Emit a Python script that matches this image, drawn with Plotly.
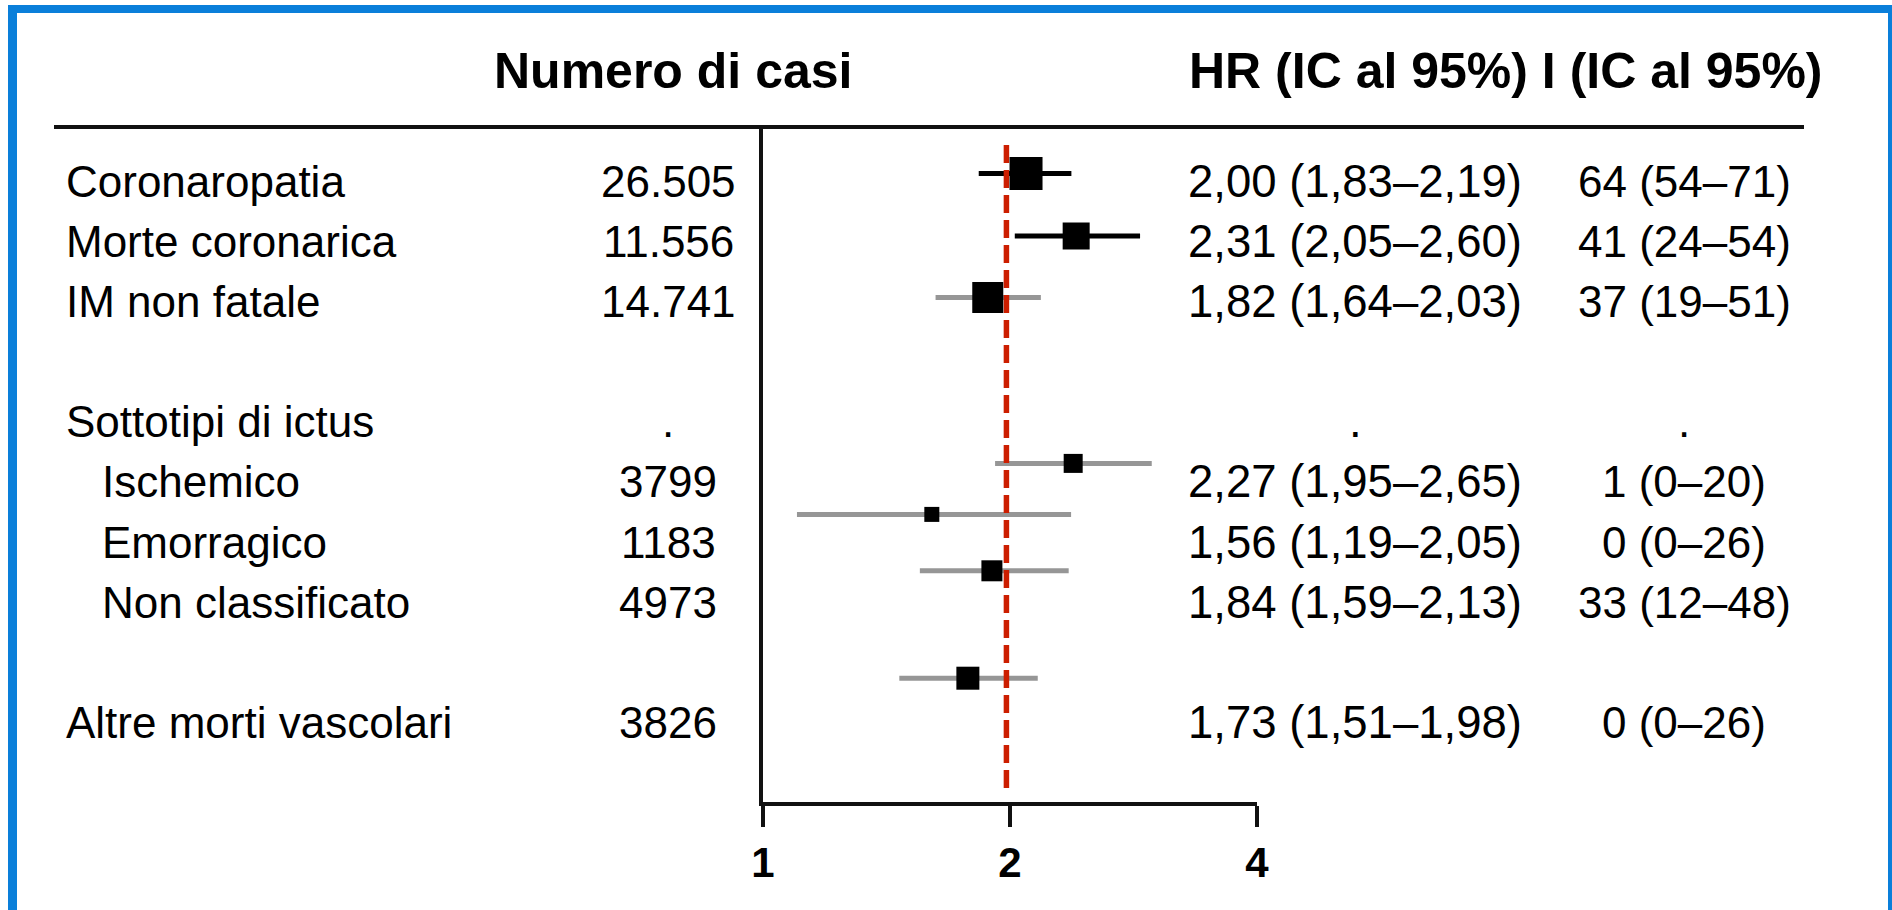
import math
import plotly.graph_objects as go

W, H = 1892, 910

# ---- data ----
labels = ["Coronaropatia", "Morte coronarica", "IM non fatale", "Sottotipi di ictus",
          "Ischemico", "Emorragico", "Non classificato", "Altre morti vascolari"]
label_row = [0, 1, 2, 4, 5, 6, 7, 9]
label_indent = [0, 0, 0, 0, 1, 1, 1, 0]
cases = ["26.505", "11.556", "14.741", ".", "3799", "1183", "4973", "3826"]
hr_text = ["2,00 (1,83\u20132,19)", "2,31 (2,05\u20132,60)", "1,82 (1,64\u20132,03)", ".",
           "2,27 (1,95\u20132,65)", "1,56 (1,19\u20132,05)", "1,84 (1,59\u20132,13)",
           "1,73 (1,51\u20131,98)"]
i_text = ["64 (54\u201371)", "41 (24\u201354)", "37 (19\u201351)", ".",
          "1 (0\u201320)", "0 (0\u201326)", "33 (12\u201348)", "0 (0\u201326)"]

# forest marks (as drawn in the picture)
mark_names = ["Coronaropatia", "Morte coronarica", "IM non fatale", "Ischemico",
              "Emorragico", "Non classificato", "Altre morti vascolari"]
mark_row = [-0.143, 0.90, 1.925, 4.69, 5.54, 6.48, 8.27]
mark_est = [2.092, 2.408, 1.879, 2.388, 1.606, 1.901, 1.777]
mark_lo = [1.832, 2.027, 1.623, 1.918, 1.100, 1.553, 1.466]
mark_hi = [2.376, 2.881, 2.181, 2.977, 2.374, 2.358, 2.162]
mark_weight = [33, 27, 31, 19, 15, 21, 23]
mark_dark = [True, True, False, False, False, False, False]

ref_value = 1.98
x_ticks = [1, 2, 4]
x_ticklabels = ["1", "2", "4"]

# ---- layout helpers ----
FONT = "Liberation Sans, Arial, sans-serif"
ROW0_PX = 182.0
ROW_STEP = 60.0
TOP_PX, BOT_PX = 127.0, 802.0
y_top = (TOP_PX - ROW0_PX) / ROW_STEP
y_bot = (BOT_PX - ROW0_PX) / ROW_STEP
LEFT_PX, RIGHT_PX = 763.0, 1257.0

fig = go.Figure()

for dark, col in [(True, "#000000"), (False, "#969696")]:
    xs, ys = [], []
    for r, lo, hi, d in zip(mark_row, mark_lo, mark_hi, mark_dark):
        if d == dark:
            xs += [lo, hi, None]
            ys += [r, r, None]
    fig.add_trace(go.Scatter(x=xs, y=ys, mode="lines",
                             line=dict(color=col, width=5), hoverinfo="skip",
                             showlegend=False))

# reference dashed line
fig.add_trace(go.Scatter(x=[ref_value, ref_value],
                         y=[(145 - ROW0_PX) / ROW_STEP, (795 - ROW0_PX) / ROW_STEP],
                         mode="lines", line=dict(color="#cc1e00", width=5.5, dash="18px,7px"),
                         hoverinfo="skip", showlegend=False))

fig.add_trace(go.Scatter(x=mark_est, y=mark_row, mode="markers",
                         marker=dict(symbol="square", size=mark_weight, color="#000000",
                                     opacity=1, line=dict(width=0)),
                         text=mark_names, showlegend=False))

ann = []
for lab, r, ind, c, h, i in zip(labels, label_row, label_indent, cases, hr_text, i_text):
    ann.append(dict(text=lab, x=(64 + 36 * ind) / W, xref="paper", y=r, yref="y",
                    xanchor="left", yanchor="middle", showarrow=False,
                    font=dict(family=FONT, size=44, color="#000")))
    ann.append(dict(text=c, x=668 / W, xref="paper", y=r, yref="y",
                    xanchor="center", yanchor="middle", showarrow=False,
                    font=dict(family=FONT, size=44, color="#000")))
    ann.append(dict(text=h, x=1355 / W, xref="paper", y=r, yref="y",
                    xanchor="center", yanchor="middle", showarrow=False,
                    font=dict(family=FONT, size=45.5, color="#000")))
    ann.append(dict(text=i, x=1684 / W, xref="paper", y=r, yref="y",
                    xanchor="center", yanchor="middle", showarrow=False,
                    font=dict(family=FONT, size=44, color="#000")))

ann.append(dict(text="<b>Numero di casi</b>", x=673 / W, xref="paper", y=1 - 71 / H,
                yref="paper", xanchor="center", yanchor="middle", showarrow=False,
                font=dict(family=FONT, size=50, color="#000")))
ann.append(dict(text="<b>HR (IC al 95%) I (IC al 95%)</b>", x=1506 / W, xref="paper",
                y=1 - 71 / H, yref="paper", xanchor="center", yanchor="middle",
                showarrow=False, font=dict(family=FONT, size=50, color="#000")))

BLUE = "#0a7fda"
shapes = [
    dict(type="line", xref="paper", yref="paper", x0=54 / W, x1=1804 / W,
         y0=1 - 127 / H, y1=1 - 127 / H, line=dict(color="#111", width=4)),
    dict(type="rect", xref="paper", yref="paper", x0=8 / W, x1=17 / W, y0=0,
         y1=1 - 5 / H, fillcolor=BLUE, line=dict(width=0)),
    dict(type="rect", xref="paper", yref="paper", x0=8 / W, x1=1, y0=1 - 13 / H,
         y1=1 - 5 / H, fillcolor=BLUE, line=dict(width=0)),
    dict(type="rect", xref="paper", yref="paper", x0=1888 / W, x1=1, y0=0,
         y1=1 - 5 / H, fillcolor=BLUE, line=dict(width=0)),
]

fig.update_layout(
    template="none",
    width=W, height=H, margin=dict(l=0, r=0, t=0, b=0, pad=0, autoexpand=False),
    paper_bgcolor="white", plot_bgcolor="rgba(0,0,0,0)",
    annotations=ann, shapes=shapes, showlegend=False,
    xaxis=dict(type="log", range=[0, math.log10(4)], domain=[LEFT_PX / W, RIGHT_PX / W],
               tickvals=x_ticks, ticktext=x_ticklabels, ticks="outside", ticklen=21,
               tickwidth=4, tickcolor="#111", showline=True, linewidth=4,
               linecolor="#111", showgrid=False, zeroline=False, automargin=False,
               tickfont=dict(family=FONT, size=42, color="#000", weight="bold")),
    yaxis=dict(range=[y_bot, y_top], domain=[1 - BOT_PX / H, 1 - TOP_PX / H],
               showline=True, linewidth=4, linecolor="#111", showticklabels=False,
               ticks="", showgrid=False, zeroline=False, automargin=False),
)

fig.write_html("out.html")
